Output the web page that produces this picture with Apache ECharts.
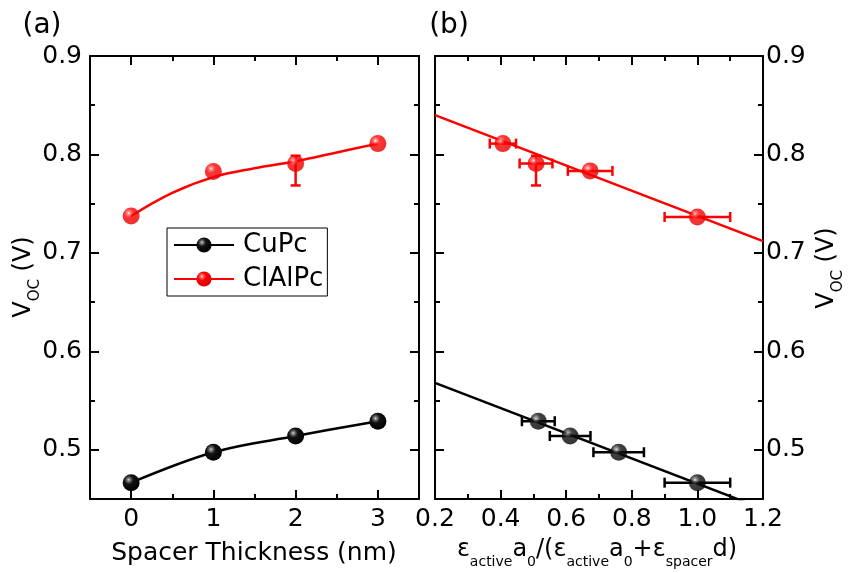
<!DOCTYPE html>
<html>
<head>
<meta charset="utf-8">
<script src="https://cdn.jsdelivr.net/npm/echarts@6/dist/echarts.min.js"></script>
<style>html,body{margin:0;padding:0;background:#fff;}#c{width:850px;height:573px;}</style>
</head>
<body>
<div id="c"></div>
<script>
// ---- data ----
const thickness = [0, 1, 2, 3];
const cupcVoc = [0.4666, 0.4975, 0.514, 0.529];
const clalpcVoc = [0.7375, 0.7827, 0.7908, 0.811];
const clalpcVocErrLow = [0.7375, 0.7827, 0.7685, 0.811];
const clalpcVocErrHigh = [0.7375, 0.7827, 0.7987, 0.811];

// fitted curve for ClAlPc in panel (a)
const clalpcCurveX = [0, 0.5, 1, 1.5, 2, 2.5, 3];
const clalpcCurveY = [0.7375, 0.761, 0.777, 0.786, 0.793, 0.802, 0.811];

const cupcRatio = [0.515, 0.612, 0.76, 1.0];
const cupcRatioVoc = [0.529, 0.514, 0.4975, 0.4666];
const cupcRatioErr = [0.05, 0.062, 0.077, 0.1];
const clalpcRatio = [0.407, 0.508, 0.673, 1.0];
const clalpcRatioVoc = [0.811, 0.7908, 0.7833, 0.7365];
const clalpcRatioErr = [0.04, 0.05, 0.068, 0.1];
const clalpcRatioVocLow = [0.811, 0.7685, 0.7833, 0.7365];
const clalpcRatioVocHigh = [0.811, 0.7987, 0.7833, 0.7365];

const fitX = [0.2, 1.2];
const clalpcFitY = [0.840, 0.712];
const cupcFitY = [0.568, 0.440];

const xTicksA = [0, 1, 2, 3];
const xTicksB = [0.2, 0.4, 0.6, 0.8, 1.0, 1.2];
const yTicks = [0.5, 0.6, 0.7, 0.8, 0.9];

// ---- styling ----
const FONT = 'DejaVu Sans';
const blackBall = {type:'radial', x:0.36, y:0.33, r:0.7, colorStops:[
  {offset:0, color:'#dcdcdc'}, {offset:0.13, color:'#7a7a7a'}, {offset:0.38, color:'#121212'}, {offset:1, color:'#000'}]};
const redBall = {type:'radial', x:0.36, y:0.33, r:0.7, colorStops:[
  {offset:0, color:'#fff0f0'}, {offset:0.13, color:'#ff7070'}, {offset:0.38, color:'#ff0000'}, {offset:1, color:'#e00000'}]};

const axLine = {show:true, onZero:false, lineStyle:{color:'#000', width:2}};
const noLine = {show:false, onZero:false};
function xAx(grid, pos, min, max, step, custom, labels, major) {
  const a = {type:'value', gridIndex:grid, position:pos, min:min, max:max, interval:step,
    splitLine:{show:false}, axisLine: major ? axLine : noLine,
    axisTick:{show:true, inside:true, length: major ? 9 : 5, lineStyle:{color:'#000', width:2}},
    axisLabel:{show:labels, margin:8, color:'#000', fontFamily:FONT, fontSize:25}};
  if (major) { a.axisTick.customValues = custom; }
  if (labels) { a.axisLabel.customValues = custom; a.axisLabel.formatter = custom === xTicksB ? (v => v.toFixed(1)) : (v => String(Math.round(v))); }
  return a;
}
function yAx(grid, pos, labels, major, margin) {
  const a = {type:'value', gridIndex:grid, position:pos, min:0.45, max:0.9, interval:0.05,
    splitLine:{show:false}, axisLine: major ? axLine : noLine,
    axisTick:{show:true, inside:true, length: major ? 9 : 5, lineStyle:{color:'#000', width:2}},
    axisLabel:{show:labels, margin:margin||8, color:'#000', fontFamily:FONT, fontSize:25}};
  if (major) { a.axisTick.customValues = yTicks; }
  if (labels) { a.axisLabel.customValues = yTicks; a.axisLabel.formatter = v => v.toFixed(1); }
  return a;
}

function errRender(params, api) {
  const x = api.value(0), y = api.value(1), xe = api.value(2), ylo = api.value(3), yhi = api.value(4);
  const color = api.visual('color');
  const st = {stroke: color, lineWidth: 2.5};
  const ch = [];
  const cap = 5;
  if (xe > 0) {
    const p1 = api.coord([x - xe, y]), p2 = api.coord([x + xe, y]);
    ch.push({type:'line', shape:{x1:p1[0], y1:p1[1], x2:p2[0], y2:p2[1]}, style:st});
    ch.push({type:'line', shape:{x1:p1[0], y1:p1[1]-cap, x2:p1[0], y2:p1[1]+cap}, style:st});
    ch.push({type:'line', shape:{x1:p2[0], y1:p2[1]-cap, x2:p2[0], y2:p2[1]+cap}, style:st});
  }
  if (yhi - ylo > 1e-6) {
    const q1 = api.coord([x, ylo]), q2 = api.coord([x, yhi]);
    ch.push({type:'line', shape:{x1:q1[0], y1:q1[1], x2:q2[0], y2:q2[1]}, style:st});
    ch.push({type:'line', shape:{x1:q1[0]-cap, y1:q1[1], x2:q1[0]+cap, y2:q1[1]}, style:st});
    ch.push({type:'line', shape:{x1:q2[0]-cap, y1:q2[1], x2:q2[0]+cap, y2:q2[1]}, style:st});
  }
  return {type:'group', children:ch};
}

const zip = (a, b) => a.map((v, i) => [v, b[i]]);
const subRich = (size) => ({
  n:{fontFamily:FONT, fontSize:24, lineHeight:38, fill:'#000', verticalAlign:'middle'},
  s:{fontFamily:FONT, fontSize:size, fill:'#000', verticalAlign:'bottom'}
});

const chart = echarts.init(document.getElementById('c'), null, {renderer:'canvas'});
const option = {
  backgroundColor:'#fff',
  animation:false,
  grid:[
    {left:90, top:56, width:329, height:443},
    {left:435, top:56, width:328, height:443}
  ],
  xAxis:[
    xAx(0, 'bottom', -0.5, 3.5, 0.5, xTicksA, true, true),
    xAx(0, 'bottom', -0.5, 3.5, 0.5, xTicksA, false, false),
    xAx(0, 'top', -0.5, 3.5, 0.5, xTicksA, false, true),
    xAx(0, 'top', -0.5, 3.5, 0.5, xTicksA, false, false),
    xAx(1, 'bottom', 0.2, 1.2, 0.1, xTicksB, true, true),
    xAx(1, 'bottom', 0.2, 1.2, 0.1, xTicksB, false, false),
    xAx(1, 'top', 0.2, 1.2, 0.1, xTicksB, false, true),
    xAx(1, 'top', 0.2, 1.2, 0.1, xTicksB, false, false)
  ],
  yAxis:[
    yAx(0, 'left', true, true, 8),
    yAx(0, 'left', false, false),
    yAx(0, 'right', false, true),
    yAx(0, 'right', false, false),
    yAx(1, 'right', true, true, 3),
    yAx(1, 'right', false, false),
    yAx(1, 'left', false, true),
    yAx(1, 'left', false, false)
  ],
  legend:{
    orient:'vertical', left:167, top:228, data:['CuPc', 'ClAlPc'],
    itemWidth:60, itemHeight:19, itemGap:8, padding:[4, 4, 4, 6],
    borderColor:'#000', borderWidth:1, selectedMode:false,
    textStyle:{fontFamily:FONT, fontSize:26, color:'#000', padding:[0, 0, 0, 4]}
  },
  graphic:[
    {type:'text', x:42, y:26, style:{text:'(a)', font:'28px "DejaVu Sans"', fill:'#000', align:'center', verticalAlign:'middle'}},
    {type:'text', x:449, y:26, style:{text:'(b)', font:'28px "DejaVu Sans"', fill:'#000', align:'center', verticalAlign:'middle'}},
    {type:'text', x:254, y:553, style:{text:'Spacer Thickness (nm)', font:'25px "DejaVu Sans"', fill:'#000', align:'center', verticalAlign:'middle'}},
    {type:'text', x:597, y:550, style:{
      text:'{n|ε}{s|active}{n|a}{s|0}{n|/(ε}{s|active}{n|a}{s|0}{n|+ε}{s|spacer}{n|d)}',
      align:'center', verticalAlign:'middle', fill:'#000', rich:subRich(14)}},
    {type:'text', x:24, y:277, rotation:Math.PI/2, style:{
      text:'{n|V}{s|OC}{n| (V)}', align:'center', verticalAlign:'middle', fill:'#000', rich:subRich(15)}},
    {type:'text', x:827, y:268, rotation:Math.PI/2, style:{
      text:'{n|V}{s|OC}{n| (V)}', align:'center', verticalAlign:'middle', fill:'#000', rich:subRich(15)}}
  ],
  series:[
    {name:'ClAlPc err a', type:'custom', xAxisIndex:0, yAxisIndex:0, renderItem:errRender, itemStyle:{color:'#ff0000'}, z:2,
      data: thickness.map((t, i) => [t, clalpcVoc[i], 0, clalpcVocErrLow[i], clalpcVocErrHigh[i]])},
    {name:'CuPc', type:'line', xAxisIndex:0, yAxisIndex:0, data:zip(thickness, cupcVoc), smooth:0.35,
      symbol:'circle', symbolSize:17, lineStyle:{color:'#000', width:2.5}, itemStyle:{color:blackBall, borderWidth:0}, z:3},
    {name:'ClAlPc', type:'line', xAxisIndex:0, yAxisIndex:0, data:zip(clalpcCurveX, clalpcCurveY), smooth:0.4,
      symbol:'circle', showSymbol:false, lineStyle:{color:'#ff0000', width:2.5}, itemStyle:{color:redBall, borderWidth:0}, z:3},
    {name:'ClAlPc pts a', type:'scatter', xAxisIndex:0, yAxisIndex:0, data:zip(thickness, clalpcVoc),
      symbol:'circle', symbolSize:17, itemStyle:{color:redBall}, z:4},
    {name:'ClAlPc fit', type:'line', xAxisIndex:4, yAxisIndex:4, data:zip(fitX, clalpcFitY), showSymbol:false, symbol:'none',
      lineStyle:{color:'#ff0000', width:2.5}, clip:true, z:2},
    {name:'CuPc fit', type:'line', xAxisIndex:4, yAxisIndex:4, data:zip(fitX, cupcFitY), showSymbol:false, symbol:'none',
      lineStyle:{color:'#000', width:2.5}, clip:true, z:2},
    {name:'ClAlPc err b', type:'custom', xAxisIndex:4, yAxisIndex:4, renderItem:errRender, itemStyle:{color:'#ff0000'}, z:2,
      data: clalpcRatio.map((r, i) => [r, clalpcRatioVoc[i], clalpcRatioErr[i], clalpcRatioVocLow[i], clalpcRatioVocHigh[i]])},
    {name:'CuPc err b', type:'custom', xAxisIndex:4, yAxisIndex:4, renderItem:errRender, itemStyle:{color:'#000'}, z:2,
      data: cupcRatio.map((r, i) => [r, cupcRatioVoc[i], cupcRatioErr[i], cupcRatioVoc[i], cupcRatioVoc[i]])},
    {name:'ClAlPc pts b', type:'scatter', xAxisIndex:4, yAxisIndex:4, data:zip(clalpcRatio, clalpcRatioVoc),
      symbol:'circle', symbolSize:17, itemStyle:{color:redBall}, z:3},
    {name:'CuPc pts b', type:'scatter', xAxisIndex:4, yAxisIndex:4, data:zip(cupcRatio, cupcRatioVoc),
      symbol:'circle', symbolSize:17, itemStyle:{color:blackBall}, z:3}
  ]
};
chart.setOption(option);
</script>
</body>
</html>
